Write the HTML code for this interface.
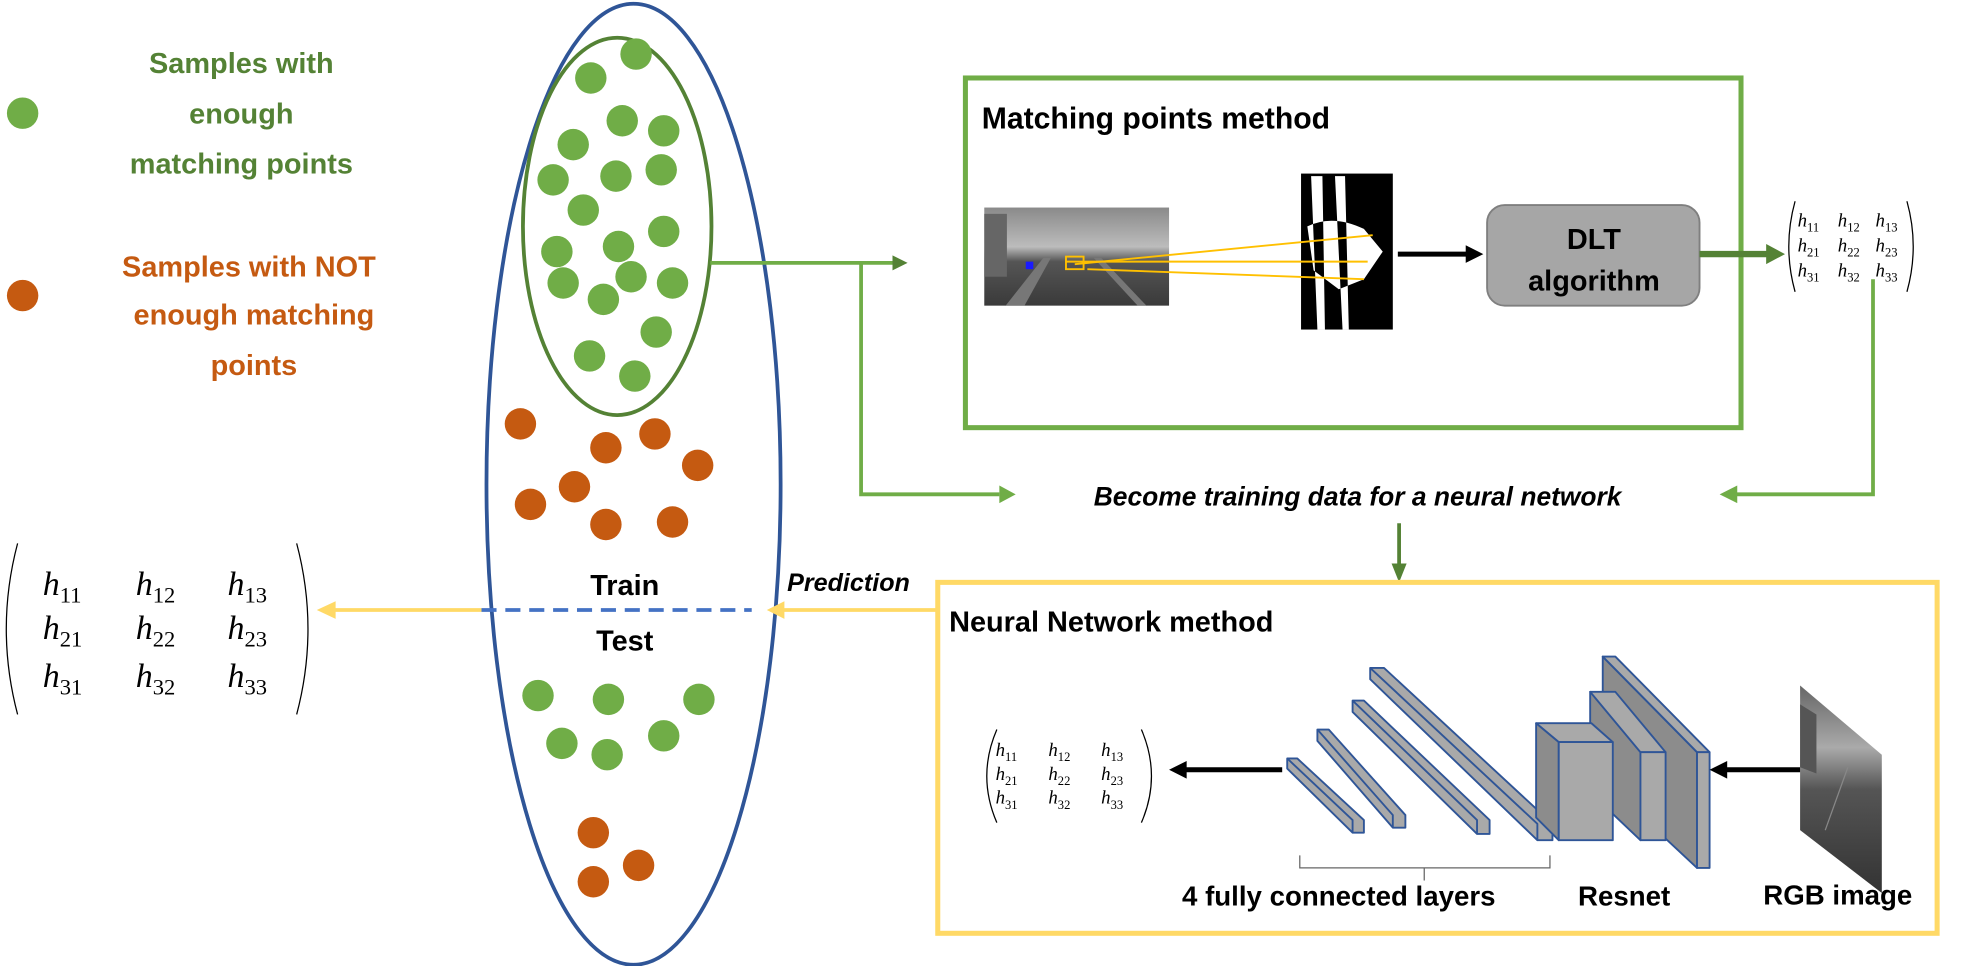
<!DOCTYPE html>
<html><head><meta charset="utf-8"><style>
html,body{margin:0;padding:0;background:#fff;}
svg{display:block;}
.b{font-family:"Liberation Sans",sans-serif;font-weight:bold;}
.m{font-family:"Liberation Serif",serif;font-style:italic;}
</style></head><body>
<svg width="1961" height="966" viewBox="0 0 1560 768" preserveAspectRatio="none" xmlns="http://www.w3.org/2000/svg">
<defs>
<linearGradient id="sky" x1="0" y1="0" x2="0" y2="1"><stop offset="0" stop-color="#8a8a8a"/><stop offset="0.4" stop-color="#bcbcbc"/><stop offset="0.55" stop-color="#555"/><stop offset="1" stop-color="#3a3a3a"/></linearGradient>
<linearGradient id="sky2" x1="0" y1="0" x2="0" y2="1"><stop offset="0" stop-color="#666"/><stop offset="0.3" stop-color="#aaa"/><stop offset="0.5" stop-color="#555"/><stop offset="1" stop-color="#333"/></linearGradient>
</defs>
<!-- legend -->
<circle cx="18" cy="90" r="12.5" fill="#70AD47"/>
<g class="b" fill="#548235" font-size="23" text-anchor="middle">
<text x="192" y="58">Samples with</text><text x="192" y="98">enough</text><text x="192" y="138">matching points</text></g>
<circle cx="18" cy="235" r="12.5" fill="#C55A11"/>
<g class="b" fill="#C55A11" font-size="23" text-anchor="middle">
<text x="198" y="220">Samples with NOT</text><text x="202" y="258">enough matching</text><text x="202" y="298">points</text></g>
<!-- ellipses -->
<ellipse cx="504" cy="385" rx="117" ry="382" fill="none" stroke="#2F5597" stroke-width="3"/>
<ellipse cx="491" cy="180" rx="75" ry="150" fill="none" stroke="#548235" stroke-width="3"/>
<g fill="#70AD47">
<circle cx="470" cy="62" r="12.5"/><circle cx="506" cy="43" r="12.5"/>
<circle cx="456" cy="115" r="12.5"/><circle cx="495" cy="96" r="12.5"/><circle cx="528" cy="104" r="12.5"/>
<circle cx="440" cy="143" r="12.5"/><circle cx="490" cy="140" r="12.5"/><circle cx="526" cy="135" r="12.5"/>
<circle cx="464" cy="167" r="12.5"/><circle cx="443" cy="200" r="12.5"/><circle cx="492" cy="196" r="12.5"/><circle cx="528" cy="184" r="12.5"/>
<circle cx="448" cy="225" r="12.5"/><circle cx="502" cy="220" r="12.5"/><circle cx="535" cy="225" r="12.5"/>
<circle cx="480" cy="238" r="12.5"/><circle cx="522" cy="264" r="12.5"/><circle cx="469" cy="283" r="12.5"/><circle cx="505" cy="299" r="12.5"/>
<circle cx="428" cy="553" r="12.5"/><circle cx="484" cy="556" r="12.5"/><circle cx="556" cy="556" r="12.5"/>
<circle cx="447" cy="591" r="12.5"/><circle cx="483" cy="600" r="12.5"/><circle cx="528" cy="585" r="12.5"/>
</g>
<g fill="#C55A11">
<circle cx="414" cy="337" r="12.5"/><circle cx="482" cy="356" r="12.5"/><circle cx="521" cy="345" r="12.5"/><circle cx="555" cy="370" r="12.5"/>
<circle cx="457" cy="387" r="12.5"/><circle cx="422" cy="401" r="12.5"/><circle cx="482" cy="417" r="12.5"/><circle cx="535" cy="415" r="12.5"/>
<circle cx="472" cy="662" r="12.5"/><circle cx="508" cy="688" r="12.5"/><circle cx="472" cy="701" r="12.5"/>
</g>
<g class="b" font-size="23" text-anchor="middle" fill="#000"><text x="497" y="473">Train</text><text x="497" y="517">Test</text></g>
<line x1="383" y1="485" x2="598" y2="485" stroke="#4472C4" stroke-width="3" stroke-dasharray="12,7"/>
<!-- green connectors -->
<g stroke="#70AD47" stroke-width="3" fill="none">
<polyline points="565,209 710,209"/><polyline points="685,209 685,393 795,393"/>
<polyline points="1490,222 1490,393 1380,393"/>
</g>
<polygon points="710,203 722,209 710,215" fill="#548235"/>
<polygon points="795,386 808,393 795,400" fill="#70AD47"/>
<polygon points="1382,386 1368,393 1382,400" fill="#70AD47"/>
<!-- matching box -->
<rect x="768" y="62" width="617" height="278" fill="none" stroke="#70AD47" stroke-width="4"/>
<text class="b" x="781" y="102" font-size="24">Matching points method</text>
<rect x="783" y="165" width="147" height="78" fill="url(#sky)"/>
<rect x="783" y="170" width="18" height="50" fill="#666"/>
<polygon points="800,243 830,205 836,205 815,243" fill="#777"/>
<polygon points="870,205 876,205 912,243 905,243" fill="#777"/>
<rect x="816" y="208" width="6" height="6" fill="#1a1aff"/>
<rect x="1035" y="138" width="73" height="124" fill="#000"/>
<path d="M1043,140 L1048,262 L1054,262 L1052,140Z M1062,140 L1068,262 L1073,262 L1070,140Z M1040,180 Q1060,170 1085,182 L1100,200 L1085,222 L1065,230 L1045,215Z" fill="#fff"/>
<g stroke="#FFC000" stroke-width="1.5" fill="none">
<line x1="1092" y1="187" x2="855" y2="210"/><line x1="1088" y1="208" x2="848" y2="208"/><line x1="1085" y1="222" x2="865" y2="214"/>
<rect x="848" y="204" width="14" height="10"/>
</g>
<line x1="1112" y1="202" x2="1168" y2="202" stroke="#000" stroke-width="4"/>
<polygon points="1166,195 1180,202 1166,209" fill="#000"/>
<rect x="1183" y="163" width="169" height="80" rx="14" fill="#A6A6A6" stroke="#7f7f7f" stroke-width="1.5"/>
<g class="b" font-size="23" text-anchor="middle"><text x="1268" y="198">DLT</text><text x="1268" y="231">algorithm</text></g>
<line x1="1352" y1="202" x2="1408" y2="202" stroke="#548235" stroke-width="5"/>
<polygon points="1405,194 1420,202 1405,210" fill="#548235"/>
<!-- small matrix top -->
<g class="m" font-size="15">
<path d="M1428,160 Q1418,196 1428,232" fill="none" stroke="#000" stroke-width="1"/>
<path d="M1517,160 Q1527,196 1517,232" fill="none" stroke="#000" stroke-width="1"/>
<text x="1430" y="180">h<tspan font-size="10" dy="4" font-style="normal">11</tspan></text><text x="1462" y="180">h<tspan font-size="10" dy="4" font-style="normal">12</tspan></text><text x="1492" y="180">h<tspan font-size="10" dy="4" font-style="normal">13</tspan></text>
<text x="1430" y="200">h<tspan font-size="10" dy="4" font-style="normal">21</tspan></text><text x="1462" y="200">h<tspan font-size="10" dy="4" font-style="normal">22</tspan></text><text x="1492" y="200">h<tspan font-size="10" dy="4" font-style="normal">23</tspan></text>
<text x="1430" y="220">h<tspan font-size="10" dy="4" font-style="normal">31</tspan></text><text x="1462" y="220">h<tspan font-size="10" dy="4" font-style="normal">32</tspan></text><text x="1492" y="220">h<tspan font-size="10" dy="4" font-style="normal">33</tspan></text>
</g>
<text class="b" x="1080" y="402" font-size="21" font-style="italic" text-anchor="middle">Become training data for a neural network</text>
<line x1="1113" y1="416" x2="1113" y2="450" stroke="#548235" stroke-width="3"/>
<polygon points="1107,448 1113,463 1119,448" fill="#548235"/>
<!-- NN box -->
<rect x="746" y="463" width="795" height="279" fill="none" stroke="#FFD966" stroke-width="4"/>
<text class="b" x="755" y="502" font-size="23">Neural Network method</text>
<line x1="745" y1="485" x2="622" y2="485" stroke="#FFD966" stroke-width="3"/>
<polygon points="624,478 610,485 624,492" fill="#FFD966"/>
<text class="b" x="675" y="470" font-size="20" font-style="italic" text-anchor="middle">Prediction</text>
<line x1="383" y1="485" x2="265" y2="485" stroke="#FFD966" stroke-width="3"/>
<polygon points="267,478 252,485 267,492" fill="#FFD966"/>
<!-- big matrix -->
<g class="m" font-size="27">
<path d="M14,432 Q-4,500 14,568" fill="none" stroke="#000" stroke-width="1"/>
<path d="M236,432 Q254,500 236,568" fill="none" stroke="#000" stroke-width="1"/>
<text x="34" y="473">h<tspan font-size="18" dy="6" font-style="normal">11</tspan></text><text x="108" y="473">h<tspan font-size="18" dy="6" font-style="normal">12</tspan></text><text x="181" y="473">h<tspan font-size="18" dy="6" font-style="normal">13</tspan></text>
<text x="34" y="508">h<tspan font-size="18" dy="6" font-style="normal">21</tspan></text><text x="108" y="508">h<tspan font-size="18" dy="6" font-style="normal">22</tspan></text><text x="181" y="508">h<tspan font-size="18" dy="6" font-style="normal">23</tspan></text>
<text x="34" y="546">h<tspan font-size="18" dy="6" font-style="normal">31</tspan></text><text x="108" y="546">h<tspan font-size="18" dy="6" font-style="normal">32</tspan></text><text x="181" y="546">h<tspan font-size="18" dy="6" font-style="normal">33</tspan></text>
</g>
<!-- small matrix NN -->
<g class="m" font-size="15">
<path d="M793,580 Q777,617 793,654" fill="none" stroke="#000" stroke-width="1"/>
<path d="M908,580 Q924,617 908,654" fill="none" stroke="#000" stroke-width="1"/>
<text x="792" y="601">h<tspan font-size="10" dy="4" font-style="normal">11</tspan></text><text x="834" y="601">h<tspan font-size="10" dy="4" font-style="normal">12</tspan></text><text x="876" y="601">h<tspan font-size="10" dy="4" font-style="normal">13</tspan></text>
<text x="792" y="620">h<tspan font-size="10" dy="4" font-style="normal">21</tspan></text><text x="834" y="620">h<tspan font-size="10" dy="4" font-style="normal">22</tspan></text><text x="876" y="620">h<tspan font-size="10" dy="4" font-style="normal">23</tspan></text>
<text x="792" y="639">h<tspan font-size="10" dy="4" font-style="normal">31</tspan></text><text x="834" y="639">h<tspan font-size="10" dy="4" font-style="normal">32</tspan></text><text x="876" y="639">h<tspan font-size="10" dy="4" font-style="normal">33</tspan></text>
</g>
<line x1="1020" y1="612" x2="942" y2="612" stroke="#000" stroke-width="4"/>
<polygon points="944,605 930,612 944,619" fill="#000"/>
<!-- FC bars -->
<g fill="#A9A9A9" stroke="#2F5597" stroke-width="1.5" stroke-linejoin="round">
<polygon points="1024,603 1032,603 1085,652 1085,662 1076,662 1024,611"/><polyline points="1024,603 1076,652 1076,662 M1076,652 1085,652" fill="none"/>
<polygon points="1048,580 1057,580 1118,648 1118,658 1108,658 1048,589"/><polyline points="1048,580 1108,648 1108,658 M1108,648 1118,648" fill="none"/>
<polygon points="1076,557 1085,557 1185,652 1185,663 1175,663 1076,566"/><polyline points="1076,557 1175,652 1175,663 M1175,652 1185,652" fill="none"/>
<polygon points="1090,531 1101,531 1235,655 1235,668 1223,668 1090,540"/><polyline points="1090,531 1223,655 1223,668 M1223,655 1235,655" fill="none"/>
</g>
<path d="M1034,680 L1034,690 L1233,690 L1233,680 M1133,690 L1133,700" fill="none" stroke="#666" stroke-width="1"/>
<!-- resnet -->
<g stroke="#2F5597" stroke-width="1.5" stroke-linejoin="round">
<polygon points="1275,522 1350,598 1350,690 1275,620" fill="#8c8c8c"/>
<polygon points="1275,522 1285,522 1360,598 1350,598" fill="#A9A9A9"/>
<rect x="1350" y="598" width="10" height="92" fill="#A9A9A9"/>
<polygon points="1265,550 1305,598 1305,668 1265,630" fill="#8c8c8c"/>
<polygon points="1265,550 1285,550 1325,598 1305,598" fill="#A9A9A9"/>
<rect x="1305" y="598" width="20" height="70" fill="#A9A9A9"/>
<polygon points="1222,575 1266,575 1283,590 1240,590" fill="#A9A9A9"/>
<polygon points="1222,575 1240,590 1240,668 1222,650" fill="#8c8c8c"/>
<rect x="1240" y="590" width="43" height="78" fill="#A9A9A9"/>
</g>
<!-- RGB image -->
<polygon points="1432,545 1497,600 1497,710 1432,660" fill="url(#sky2)"/>
<polygon points="1432,560 1445,568 1445,615 1432,610" fill="#555"/>
<line x1="1452" y1="660" x2="1470" y2="610" stroke="#888" stroke-width="1"/>
<line x1="1432" y1="612" x2="1372" y2="612" stroke="#000" stroke-width="4"/>
<polygon points="1374,605 1360,612 1374,619" fill="#000"/>
<g class="b" font-size="22" text-anchor="middle">
<text x="1065" y="720">4 fully connected layers</text><text x="1292" y="720">Resnet</text><text x="1462" y="719">RGB image</text></g>
</svg>
</body></html>
